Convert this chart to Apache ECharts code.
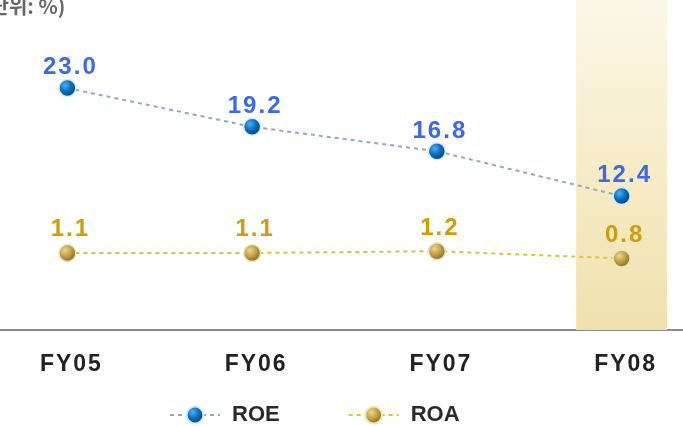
<!DOCTYPE html>
<html>
<head>
<meta charset="utf-8">
<script src="https://cdn.jsdelivr.net/npm/echarts@6/dist/echarts.min.js"></script>
<style>
  html, body { margin: 0; padding: 0; background: #ffffff; overflow: hidden; width: 683px; height: 426px; }
  /* the plot is a little wider than the page so the outer category bands bleed off both edges */
  #chart { width: 739px; height: 426px; margin-left: -25px; }
</style>
</head>
<body>
<div id="chart"></div>
<script>
// Fiscal years and profitability ratios (%)
const years = ['FY05', 'FY06', 'FY07', 'FY08'];
const roe = [23.0, 19.2, 16.8, 12.4];
const roa = [1.1, 1.1, 1.2, 0.8];
// Highlighted (latest) year column
const highlight = [null, null, null, 1];

// widen text by putting a hair space between characters
const spaced = s => String(s).split('').join('\u200A');

const chart = echarts.init(document.getElementById('chart'));

const blueBall = {
  type: 'radial', x: 0.38, y: 0.35, r: 0.7,
  colorStops: [
    { offset: 0, color: '#4fb0ee' },
    { offset: 0.45, color: '#0c70bf' },
    { offset: 1, color: '#063c70' }
  ]
};
const goldBall = {
  type: 'radial', x: 0.38, y: 0.35, r: 0.7,
  colorStops: [
    { offset: 0, color: '#ecd68e' },
    { offset: 0.5, color: '#bf9d45' },
    { offset: 1, color: '#7e6322' }
  ]
};

const boldSans = 'Liberation Sans, Arial, sans-serif';

chart.setOption({
  animation: false,
  backgroundColor: '#ffffff',
  grid: { left: 0, right: 0, top: 0, bottom: 96, containLabel: false },
  graphic: [{
    type: 'text', left: 8, top: -4,
    style: {
      text: '(단위: %)', fill: '#666666',
      font: 'bold 20px "Noto Sans CJK KR", sans-serif'
    }
  }],
  legend: {
    left: 189, top: 399,
    itemWidth: 50, itemHeight: 21, itemGap: 68,
    data: ['ROE', 'ROA'],
    textStyle: { fontFamily: boldSans, fontWeight: 'bold', fontSize: 22, color: '#2a2a2a', padding: [0, 0, 0, 7] }
  },
  xAxis: {
    type: 'category', data: years, boundaryGap: true,
    axisLine: { onZero: false, lineStyle: { color: '#8a8a8a', width: 2 } },
    axisTick: { show: false },
    axisLabel: {
      margin: 23, padding: [0, 0, 0, 6],
      fontFamily: boldSans, fontWeight: 'bold', fontSize: 23, color: '#222222',
      formatter: v => spaced(v)
    }
  },
  yAxis: [
    { type: 'value', min: -0.75, max: 31.65, show: false, splitLine: { show: false } },
    { type: 'value', min: -3.178, max: 15.156, show: false, splitLine: { show: false } },
    { type: 'value', min: 0, max: 1, show: false, splitLine: { show: false } }
  ],
  series: [
    {
      name: 'highlight', type: 'bar', yAxisIndex: 2, data: highlight,
      barWidth: 91, silent: true, z: 0,
      itemStyle: {
        color: {
          type: 'linear', x: 0, y: 0, x2: 0, y2: 1,
          colorStops: [
            { offset: 0, color: '#fcf8e8' },
            { offset: 0.5, color: '#f6ecc8' },
            { offset: 1, color: '#f0e1ae' }
          ]
        }
      }
    },
    {
      name: 'ROE', type: 'line', yAxisIndex: 0, data: roe,
      symbol: 'circle', symbolSize: 17, z: 3,
      lineStyle: { color: '#8fa9c6', width: 2, type: [4, 4] },
      itemStyle: { color: blueBall, borderColor: '#d6ecfa', borderWidth: 1.5 },
      label: {
        show: true, position: 'top', distance: 1, offset: [2, 2],
        formatter: p => spaced(p.value.toFixed(1)),
        fontFamily: boldSans, fontWeight: 'bold', fontSize: 24, color: '#3a68ee'
      }
    },
    {
      name: 'ROA', type: 'line', yAxisIndex: 1, data: roa,
      symbol: 'circle', symbolSize: 17, z: 3,
      lineStyle: { color: '#d7c53a', width: 2, type: [4, 4] },
      itemStyle: { color: goldBall, borderColor: '#f1e7b8', borderWidth: 1.5 },
      label: {
        show: true, position: 'top', distance: 5, offset: [2, 3],
        formatter: p => spaced(p.value.toFixed(1)),
        fontFamily: boldSans, fontWeight: 'bold', fontSize: 24, color: '#d19c08'
      }
    }
  ]
});
</script>
</body>
</html>
